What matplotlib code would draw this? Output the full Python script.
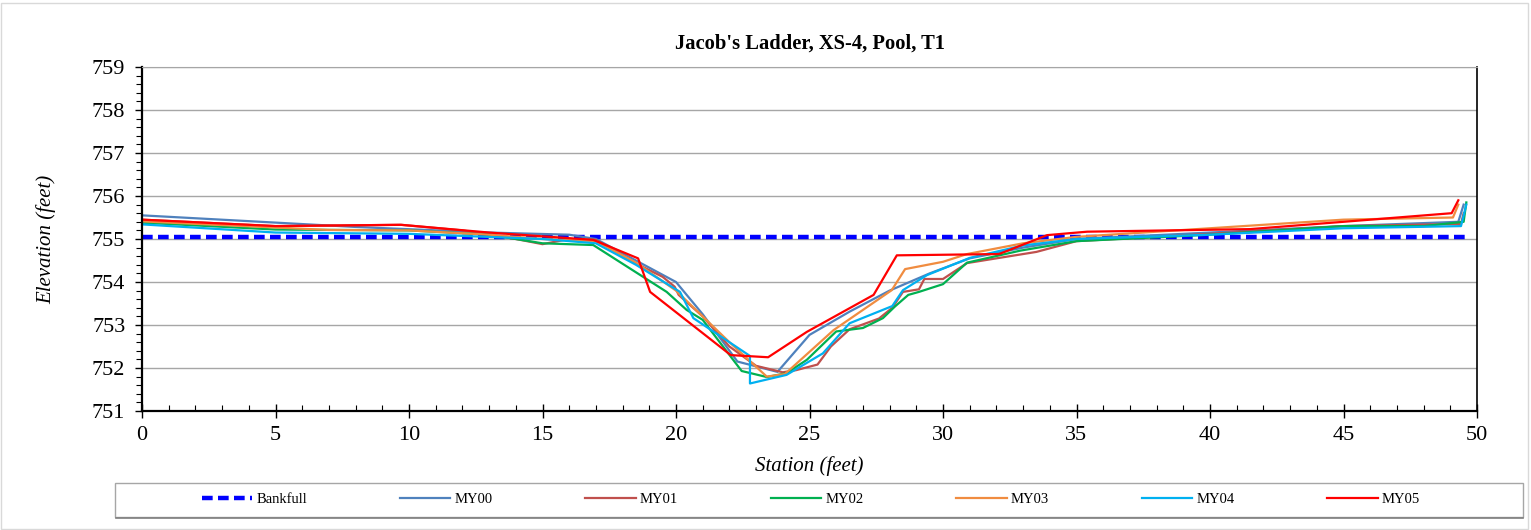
import matplotlib
matplotlib.use("Agg")
import matplotlib.pyplot as plt
from matplotlib.ticker import MultipleLocator
from matplotlib.patches import Rectangle

plt.rcParams['font.family'] = ['Liberation Serif', 'DejaVu Serif']

title = "Jacob's Ladder, XS-4, Pool, T1"
xlabel = "Station (feet)"
ylabel = "Elevation (feet)"

bankfull_x = [0, 49.6]
bankfull_y = [755.05, 755.05]

my00_x = [0, 8, 13, 16, 17, 18.5, 20, 21, 22.3, 22.8, 23.8, 25.0, 26.5, 28, 29.5, 31, 33, 35, 40, 45, 49.3, 49.5]
my00_y = [755.55, 755.28, 755.15, 755.1, 755.0, 754.5, 754.0, 753.25, 752.15, 752.07, 751.91, 752.77, 753.31, 753.8, 754.2, 754.55, 754.8, 755.0, 755.15, 755.3, 755.4, 755.8]

my01_x = [0, 5, 9.7, 12, 14, 15, 16, 17, 18.6, 19.5, 19.95, 20.1, 21.0, 22, 23, 24, 24.5, 25.3, 25.8, 26.5, 27.6, 28.1, 28.5, 29.1, 29.3, 30.0, 30.9, 33.5, 35, 40, 45, 49.4, 49.5]
my01_y = [755.45, 755.3, 755.33, 755.2, 755.0, 754.88, 755.0, 754.98, 754.4, 754.12, 753.89, 753.7, 753.2, 752.5, 752.05, 751.9, 751.95, 752.08, 752.5, 752.9, 753.15, 753.4, 753.77, 753.83, 754.07, 754.07, 754.44, 754.7, 754.95, 755.12, 755.3, 755.35, 755.6]

my02_x = [0, 5, 10, 13, 15, 16.9, 19.65, 20.4, 21.0, 22.46, 23.4, 24.14, 24.9, 26.0, 27.0, 27.75, 28.2, 28.7, 29.1, 30.0, 30.9, 32.9, 35, 40, 45, 48, 49.5, 49.6]
my02_y = [755.38, 755.22, 755.2, 755.1, 754.9, 754.86, 753.77, 753.35, 753.12, 751.93, 751.79, 751.88, 752.19, 752.85, 752.93, 753.16, 753.43, 753.7, 753.77, 753.95, 754.45, 754.73, 754.95, 755.1, 755.3, 755.3, 755.4, 755.85]

my03_x = [0, 7, 10, 13, 15, 17, 18.5, 20, 21, 22, 23.4, 24.08, 25.9, 27, 28.08, 28.58, 30.0, 30.9, 33, 35, 40, 45, 49.1, 49.3]
my03_y = [755.41, 755.21, 755.2, 755.1, 755.0, 754.95, 754.45, 753.8, 753.2, 752.6, 751.8, 751.86, 752.88, 753.35, 753.81, 754.3, 754.47, 754.65, 754.9, 755.05, 755.25, 755.45, 755.5, 755.8]

my04_x = [0, 5, 10, 15, 17, 18.5, 20.15, 20.65, 22.77, 22.77, 24.14, 25.5, 26.5, 28.1, 28.5, 29.4, 31.0, 33, 35, 40, 45, 49.4, 49.6]
my04_y = [755.34, 755.15, 755.12, 755.0, 754.9, 754.4, 753.77, 753.16, 752.28, 751.64, 751.84, 752.34, 753.04, 753.44, 753.81, 754.16, 754.56, 754.85, 755.0, 755.1, 755.25, 755.3, 755.8]

my05_x = [0, 5, 9.7, 13, 16.9, 18.58, 19.03, 22.05, 23.45, 24.9, 27.4, 28.27, 32.1, 33.9, 35.4, 41.5, 45, 49.05, 49.3]
my05_y = [755.45, 755.3, 755.33, 755.15, 754.98, 754.55, 753.77, 752.3, 752.25, 752.84, 753.7, 754.62, 754.65, 755.09, 755.17, 755.23, 755.4, 755.6, 755.9]

series = [
    ("MY00", my00_x, my00_y, "#4F81BD"),
    ("MY01", my01_x, my01_y, "#C0504D"),
    ("MY02", my02_x, my02_y, "#00B050"),
    ("MY03", my03_x, my03_y, "#F08C40"),
    ("MY04", my04_x, my04_y, "#00B0F0"),
    ("MY05", my05_x, my05_y, "#FF0000"),
]

W, H = 1531, 530
fig = plt.figure(figsize=(W / 100, H / 100), dpi=100)
ax = fig.add_axes([142 / W, 1 - 411 / H, (1477 - 142) / W, (411 - 67) / H])

ax.plot(bankfull_x, bankfull_y, color="#0000FF", lw=3.2, linestyle=(0, (2.4, 1.2)), label="Bankfull")
for name, xs, ys, c in series:
    ax.plot(xs, ys, color=c, lw=1.6, label=name)

ax.set_xlim(0, 50)
ax.set_ylim(751, 759)
ax.xaxis.set_major_locator(MultipleLocator(5))
ax.xaxis.set_minor_locator(MultipleLocator(1))
ax.yaxis.set_major_locator(MultipleLocator(1))
ax.yaxis.set_minor_locator(MultipleLocator(0.2))
ax.tick_params(axis='x', which='major', direction='inout', length=10, width=1, labelsize=16, pad=6)
ax.tick_params(axis='x', which='minor', direction='in', length=4, width=0.8)
ax.tick_params(axis='y', which='major', direction='out', length=5, width=1, labelsize=16, pad=7)
ax.tick_params(axis='y', which='minor', direction='out', length=4, width=0.8)
ax.grid(axis='y', which='major', color='#a6a6a6', lw=1)
ax.set_axisbelow(True)
for s in ['left', 'bottom']:
    ax.spines[s].set_linewidth(1.6)
    ax.spines[s].set_color('black')
ax.spines['right'].set_linewidth(1.2)
ax.spines['top'].set_linewidth(0.8)
ax.spines['top'].set_color('#a6a6a6')

ax.set_title(title, fontsize=14.8, fontweight='bold', pad=13)
ax.set_xlabel(xlabel, fontsize=15, fontstyle='italic', labelpad=8)
ax.set_ylabel(ylabel, fontsize=15, fontstyle='italic', labelpad=26)

# legend frame
fig.patches.append(Rectangle((115 / W, 1 - 517 / H), (1523 - 115) / W, 34 / H, transform=fig.transFigure,
                             facecolor='white', edgecolor='#a6a6a6', lw=1, zorder=0))
fig.add_artist(plt.Line2D([116 / W, 1523 / W], [1 - 518 / H, 1 - 518 / H], transform=fig.transFigure,
                          color='#808080', lw=1.2))
leg = fig.legend(loc='center', bbox_to_anchor=(811 / W, 1 - 499 / H),
                 ncol=7, fontsize=10.5, handlelength=3.45, handletextpad=0.3, columnspacing=6.35,
                 frameon=False, borderaxespad=0)

fig.patches.append(Rectangle((1 / W, 1 / H), 1 - 4 / W, 1 - 4 / H, transform=fig.transFigure,
                             fill=False, edgecolor='#d9d9d9', lw=1))

fig.savefig("out.png", dpi=100)
